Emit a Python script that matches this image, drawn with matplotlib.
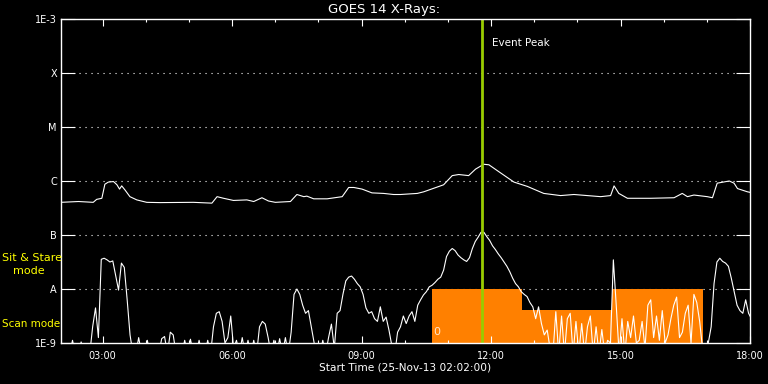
import numpy as np
import matplotlib.pyplot as plt
from matplotlib.ticker import FixedLocator, MultipleLocator, NullLocator, FuncFormatter

# long channel (1-8 A): hours, log10 flux
t_long = [2.03, 2.44, 2.78, 2.86, 2.98, 3.05, 3.13, 3.25, 3.33, 3.39, 3.44, 3.52, 3.63, 3.79,
          4.02, 4.33, 5.10, 5.53, 5.65, 5.80, 6.03, 6.34, 6.50, 6.69, 6.84, 7.00, 7.35, 7.50,
          7.66, 7.73, 7.89, 8.20, 8.55, 8.70, 8.82, 9.01, 9.24, 9.51, 9.74, 9.90, 10.29, 10.44,
          10.90, 11.10, 11.25, 11.48, 11.64, 11.83, 11.95, 12.22, 12.53, 12.84, 13.22, 13.61,
          13.92, 14.23, 14.54, 14.77, 14.85, 14.96, 15.16, 15.70, 16.24, 16.43, 16.55, 16.70,
          17.01, 17.13, 17.24, 17.52, 17.63, 17.71, 17.94, 18.0]
lg_long = [-6.395, -6.38, -6.395, -6.34, -6.32, -6.06, -6.02, -6.01, -6.07, -6.15, -6.09, -6.17,
           -6.29, -6.35, -6.395, -6.40, -6.395, -6.41, -6.29, -6.32, -6.36, -6.35, -6.38, -6.31,
           -6.37, -6.395, -6.38, -6.25, -6.29, -6.28, -6.33, -6.33, -6.29, -6.12, -6.12, -6.15,
           -6.22, -6.23, -6.25, -6.25, -6.23, -6.20, -6.07, -5.90, -5.88, -5.90, -5.78, -5.69,
           -5.70, -5.85, -6.02, -6.10, -6.23, -6.27, -6.25, -6.27, -6.29, -6.27, -6.09, -6.23,
           -6.32, -6.32, -6.31, -6.23, -6.29, -6.26, -6.29, -6.31, -6.04, -6.00, -6.04, -6.14,
           -6.20, -6.21]

# short channel (0.5-4 A): one value every 4 min from 02:02, log10 flux
t_start = 2 + 2 / 60
step_short = 4 / 60
lg_short = [
    -9.2, -9.2, -9.2, -9.2, -8.95, -9.2, -9.2, -8.98, -9.2, -9.2,
    -9.2, -8.7, -8.35, -8.9, -7.45, -7.43, -7.46, -7.5, -7.48, -7.75,
    -8.02, -7.52, -7.6, -8.2, -8.85, -9.2, -9.2, -8.9, -9.2, -9.2,
    -8.95, -9.2, -9.2, -9.2, -9.2, -8.92, -8.88, -9.2, -8.8, -8.85,
    -9.2, -9.2, -9.2, -8.95, -9.2, -8.93, -9.2, -9.2, -8.95, -9.2,
    -9.2, -8.95, -9.2, -8.7, -8.45, -8.42, -8.6, -9.0, -8.9, -8.5,
    -9.1, -8.95, -9.2, -8.9, -9.2, -8.95, -9.2, -8.95, -9.2, -8.7,
    -8.6, -8.65, -8.9, -9.2, -8.95, -9.2, -8.92, -9.2, -8.9, -9.2,
    -8.8, -8.1, -8.0, -8.1, -8.3, -8.45, -8.4, -8.7, -9.0, -9.2,
    -9.2, -8.95, -9.2, -8.9, -8.65, -9.1, -8.45, -8.4, -8.1, -7.85,
    -7.78, -7.76, -7.82, -7.9, -7.96, -8.1, -8.35, -8.45, -8.42, -8.55,
    -8.6, -8.33, -8.6, -8.52, -8.76, -9.05, -9.2, -8.8, -8.7, -8.5,
    -8.64, -8.5, -8.42, -8.6, -8.3, -8.2, -8.11, -8.05, -7.96, -7.93,
    -7.88, -7.82, -7.78, -7.65, -7.4, -7.3, -7.25, -7.29, -7.37, -7.42,
    -7.46, -7.49, -7.42, -7.25, -7.12, -7.04, -6.95, -6.95, -7.03, -7.1,
    -7.2, -7.27, -7.35, -7.42, -7.5, -7.58, -7.68, -7.8, -7.9, -7.96,
    -8.05, -8.1, -8.14, -8.25, -8.33, -8.55, -8.33, -8.64, -8.85, -8.76,
    -9.1, -9.2, -8.42, -9.2, -8.5, -9.2, -8.55, -8.45, -9.2, -8.6,
    -9.2, -8.64, -9.2, -8.7, -8.5, -9.2, -8.7, -9.2, -8.75, -9.2,
    -8.95, -9.0, -7.46, -8.3, -9.2, -8.55, -9.2, -8.6, -8.9, -8.5,
    -9.0, -8.95, -8.6, -9.1, -8.3, -8.2, -8.9, -8.5, -8.95, -8.4,
    -9.0, -8.85, -8.55, -8.3, -8.15, -8.9, -8.8, -8.45, -8.3, -9.0,
    -8.1, -8.25, -8.6, -9.1, -9.2, -9.0, -8.7, -7.9, -7.5, -7.43,
    -7.49, -7.52, -7.58, -7.8, -8.05, -8.3, -8.4, -8.45, -8.2, -8.45, -8.55]

# observing mode blocks
mode_start = [10.62, 12.72, 14.80]
mode_end = [12.72, 14.80, 16.92]
mode_level = [-8.0, -8.39, -8.0]

peak_time = 11.79
t_end = 18.0

ytick_pos = [-9, -8, -7, -6, -5, -4, -3]
ytick_lab = ['1E-9', 'A', 'B', 'C', 'M', 'X', '1E-3']

fig = plt.figure(figsize=(7.68, 3.84), dpi=100, facecolor='black')
ax = fig.add_axes([61 / 768, 41 / 384, 689 / 768, 324 / 384], facecolor='black')

for s, e, lv in zip(mode_start, mode_end, mode_level):
    ax.fill_between([s, e], 1e-10, 10 ** lv, color='#ff8000', lw=0, zorder=1)

for p in ytick_pos[1:-1]:
    ax.axhline(10 ** p, color='white', lw=0.8, ls=(0, (1, 4.4)), zorder=0.5)

t_short = t_start + np.arange(len(lg_short)) * step_short
ax.plot(t_short, 10 ** np.array(lg_short), color='white', lw=0.8, zorder=3)
ax.plot(t_long, 10 ** np.array(lg_long), color='white', lw=0.8, zorder=3)

ax.axvline(peak_time, color='#99cc00', lw=2, zorder=4)
ax.text(peak_time + 0.24, 10 ** -3.44, 'Event Peak', color='white', fontsize=7.5,
        va='center', ha='left', zorder=5)
ax.text(10.73, 10 ** -8.8, '0', color='#ffe6cc', fontsize=8, va='center', ha='center', zorder=5)

ax.set_yscale('log')
ax.set_ylim(1e-9, 1e-3)
ax.set_xlim(t_start, t_end)
ax.yaxis.set_major_locator(FixedLocator([10.0 ** p for p in ytick_pos]))
ax.yaxis.set_minor_locator(NullLocator())
ax.set_yticklabels(ytick_lab)
ax.xaxis.set_major_locator(MultipleLocator(3))
ax.xaxis.set_minor_locator(MultipleLocator(1))
ax.xaxis.set_major_formatter(FuncFormatter(lambda v, pos: '%02d:00' % int(round(v))))

ax.tick_params(which='both', direction='in', colors='white', top=True, right=True,
               labelsize=7, width=0.8)
ax.tick_params(axis='y', which='major', length=10, pad=3)
ax.tick_params(axis='x', which='major', length=4.7, pad=6)
ax.tick_params(axis='x', which='minor', length=2.5)
for sp in ax.spines.values():
    sp.set_color('white')
    sp.set_linewidth(1)
    sp.set_zorder(6)

fig.text(0.5, 1 - 9 / 384, 'GOES 14 X-Rays:', color='white', fontsize=9.5, ha='center', va='center')
fig.text(405 / 768, 1 - 368 / 384, 'Start Time (25-Nov-13 02:02:00)', color='white', fontsize=7.6,
         ha='center', va='center')
fig.text(2 / 768, 1 - 258 / 384, 'Sit & Stare', color='yellow', fontsize=8, ha='left', va='center')
fig.text(13 / 768, 1 - 271 / 384, 'mode', color='yellow', fontsize=8, ha='left', va='center')
fig.text(2 / 768, 1 - 324 / 384, 'Scan mode', color='yellow', fontsize=7.5, ha='left', va='center')

fig.savefig('out.png', dpi=100, facecolor='black')
